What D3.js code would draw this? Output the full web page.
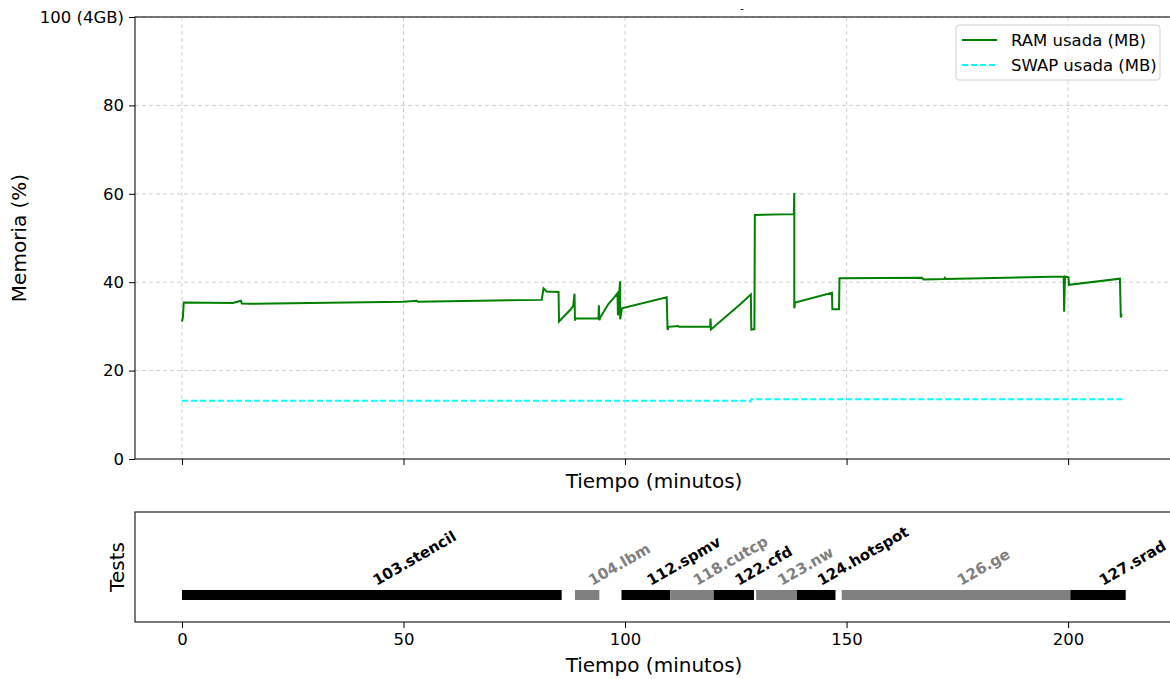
<!DOCTYPE html>
<html>
<head>
<meta charset="utf-8">
<script src="https://cdn.jsdelivr.net/npm/d3@7"></script>
<style>
  body { margin: 0; background: #fff; }
  svg { font-family: "DejaVu Sans", sans-serif; }
</style>
</head>
<body>
<div id="chart"></div>
<script>
// RAM usage over time: [minutes, percent]
var ramPoints = [
  [0.0, 31.1], [0.2, 32.0], [0.4, 35.4], [11.5, 35.3], [13.3, 35.8], [13.5, 35.2],
  [15.3, 35.1], [50.0, 35.6], [53.0, 35.8], [53.2, 35.6], [81.2, 36.0], [81.6, 38.6],
  [82.3, 37.9], [85.0, 37.8], [85.1, 31.1], [87.6, 33.7], [88.3, 34.6], [88.6, 37.4],
  [88.7, 31.3], [88.8, 31.8], [94.0, 31.8], [94.1, 34.8], [94.2, 31.4], [94.4, 32.0],
  [96.2, 35.0], [97.5, 36.5], [98.3, 37.5], [98.4, 32.5], [98.7, 37.9], [98.9, 40.2],
  [98.9, 31.6], [99.3, 34.1], [109.4, 36.6], [109.6, 29.2], [109.8, 29.9], [112.0, 30.1],
  [112.2, 29.9], [119.2, 29.9], [119.3, 31.8], [119.4, 29.3], [126.0, 35.0], [128.4, 37.2],
  [128.5, 29.3], [129.2, 29.4], [129.3, 55.2], [138.1, 55.4], [138.2, 60.2], [138.2, 34.1],
  [138.4, 35.4], [146.7, 37.6], [146.8, 33.9], [148.3, 33.9], [148.4, 40.9], [167.0, 41.0],
  [167.4, 40.6], [172.0, 40.7], [172.2, 41.0], [172.4, 40.7], [199.0, 41.3], [199.1, 33.3],
  [199.3, 41.3], [200.1, 41.1], [200.2, 39.4], [211.7, 40.8], [211.9, 32.0], [212.1, 32.8]
];

// SWAP usage over time: [minutes, percent]
var swapPoints = [
  [0.0, 13.2], [128.0, 13.2], [128.3, 13.0], [128.5, 13.5], [212.4, 13.5]
];

// tests run: name, start, end (minutes)
var testNames = ["103.stencil", "104.lbm", "112.spmv", "118.cutcp", "122.cfd", "123.nw", "124.hotspot", "126.ge", "127.srad"];
var testStart = [0.0, 88.7, 99.2, 110.2, 120.0, 129.6, 138.8, 148.9, 200.5];
var testEnd   = [85.7, 94.2, 110.2, 120.0, 129.1, 138.8, 147.5, 200.5, 213.0];

var yTicks = [0, 20, 40, 60, 80, 100];
var yTickLabels = ["0", "20", "40", "60", "80", "100 (4GB)"];
var xTicks = [0, 50, 100, 150, 200];

var width = 1170, height = 679;

var svg = d3.select("#chart").append("svg")
    .attr("width", width)
    .attr("height", height);

// layout of the two panels
var memBox = { left: 135, right: 1170, top: 17, bottom: 459 };
var testBox = { left: 135, right: 1170, top: 512, bottom: 622 };

var x = d3.scaleLinear()
    .domain([-10.6, 223.0])
    .range([memBox.left, memBox.right]);

var y = d3.scaleLinear()
    .domain([0, 100])
    .range([memBox.bottom, memBox.top]);

// grid
var grid = svg.append("g");
grid.selectAll("line.vg")
    .data(xTicks)
    .enter().append("line")
      .attr("x1", d => x(d)).attr("x2", d => x(d))
      .attr("y1", memBox.top).attr("y2", memBox.bottom)
      .attr("stroke", "#d0d0d0").attr("stroke-dasharray", "4,3");
grid.selectAll("line.hg")
    .data(yTicks.slice(1))
    .enter().append("line")
      .attr("x1", memBox.left).attr("x2", memBox.right)
      .attr("y1", d => y(d)).attr("y2", d => y(d))
      .attr("stroke", "#d0d0d0").attr("stroke-dasharray", "4,3");

// lines
var line = d3.line()
    .x(d => x(d[0]))
    .y(d => y(d[1]));

svg.append("path")
    .datum(swapPoints)
    .attr("d", line)
    .attr("fill", "none")
    .attr("stroke", "cyan")
    .attr("stroke-width", 2)
    .attr("stroke-dasharray", "6,3");

svg.append("path")
    .datum(ramPoints)
    .attr("d", line)
    .attr("fill", "none")
    .attr("stroke", "green")
    .attr("stroke-width", 2);

// spines
svg.append("rect")
    .attr("x", memBox.left).attr("y", memBox.top)
    .attr("width", memBox.right - memBox.left + 5).attr("height", memBox.bottom - memBox.top)
    .attr("fill", "none").attr("stroke", "#222").attr("stroke-width", 1.2);

// axes
var yAxis = d3.axisLeft(y)
    .tickValues(yTicks)
    .tickFormat((d, i) => yTickLabels[i])
    .tickSize(6).tickPadding(5);
var gy = svg.append("g")
    .attr("transform", `translate(${memBox.left},0)`)
    .call(yAxis);
gy.select(".domain").remove();
gy.selectAll("text")
    .attr("fill", "#000")
    .style("font-family", "DejaVu Sans")
    .style("font-size", "16.5px");

var xAxisTop = d3.axisBottom(x)
    .tickValues(xTicks)
    .tickFormat("")
    .tickSize(6);
var gx = svg.append("g")
    .attr("transform", `translate(0,${memBox.bottom})`)
    .call(xAxisTop);
gx.select(".domain").remove();

svg.append("text")
    .attr("x", 654).attr("y", 488)
    .attr("text-anchor", "middle")
    .style("font-size", "20px")
    .text("Tiempo (minutos)");

svg.append("text")
    .attr("transform", `translate(26,238) rotate(-90)`)
    .attr("text-anchor", "middle")
    .style("font-size", "20px")
    .text("Memoria (%)");

svg.append("text")
    .attr("x", 742).attr("y", 12)
    .attr("text-anchor", "middle")
    .style("font-size", "10px")
    .text("-");

// legend
var legend = svg.append("g").attr("transform", "translate(956,25)");
legend.append("rect")
    .attr("width", 204).attr("height", 55).attr("rx", 3)
    .attr("fill", "#fff").attr("fill-opacity", 0.8)
    .attr("stroke", "#d0d0d0");
legend.append("line")
    .attr("x1", 6).attr("x2", 41).attr("y1", 15).attr("y2", 15)
    .attr("stroke", "green").attr("stroke-width", 2);
legend.append("line")
    .attr("x1", 6).attr("x2", 41).attr("y1", 40).attr("y2", 40)
    .attr("stroke", "cyan").attr("stroke-width", 2).attr("stroke-dasharray", "6,3");
legend.append("text").attr("x", 55).attr("y", 21)
    .style("font-size", "16.5px").text("RAM usada (MB)");
legend.append("text").attr("x", 55).attr("y", 46)
    .style("font-size", "16.5px").text("SWAP usada (MB)");

// bottom panel: tests timeline
svg.append("rect")
    .attr("x", testBox.left).attr("y", testBox.top)
    .attr("width", testBox.right - testBox.left + 5).attr("height", testBox.bottom - testBox.top)
    .attr("fill", "none").attr("stroke", "#222").attr("stroke-width", 1.2);

var tests = testNames.map((n, i) => ({ name: n, start: testStart[i], end: testEnd[i], color: i % 2 === 0 ? "#000" : "#808080" }));

svg.append("g").selectAll("rect")
    .data(tests)
    .enter().append("rect")
      .attr("x", d => x(d.start))
      .attr("y", 590)
      .attr("width", d => x(d.end) - x(d.start))
      .attr("height", 10)
      .attr("fill", d => d.color);

// labels: bounding box of the rotated text starts at the bar centre
svg.append("g").selectAll("text")
    .data(tests)
    .enter().append("text")
      .attr("transform", d => `translate(${x((d.start + d.end) / 2) + 5},586) rotate(-30)`)
      .attr("fill", d => d.color)
      .style("font-size", "15px")
      .style("font-weight", "bold")
      .text(d => d.name);

var xAxisBot = d3.axisBottom(x)
    .tickValues(xTicks)
    .tickSize(6).tickPadding(5);
var gxb = svg.append("g")
    .attr("transform", `translate(0,${testBox.bottom})`)
    .call(xAxisBot);
gxb.select(".domain").remove();
gxb.selectAll("text")
    .attr("fill", "#000")
    .style("font-family", "DejaVu Sans")
    .style("font-size", "16.5px");

svg.append("text")
    .attr("x", 654).attr("y", 672)
    .attr("text-anchor", "middle")
    .style("font-size", "20px")
    .text("Tiempo (minutos)");

svg.append("text")
    .attr("transform", `translate(124,567) rotate(-90)`)
    .attr("text-anchor", "middle")
    .style("font-size", "20px")
    .text("Tests");
</script>
</body>
</html>
